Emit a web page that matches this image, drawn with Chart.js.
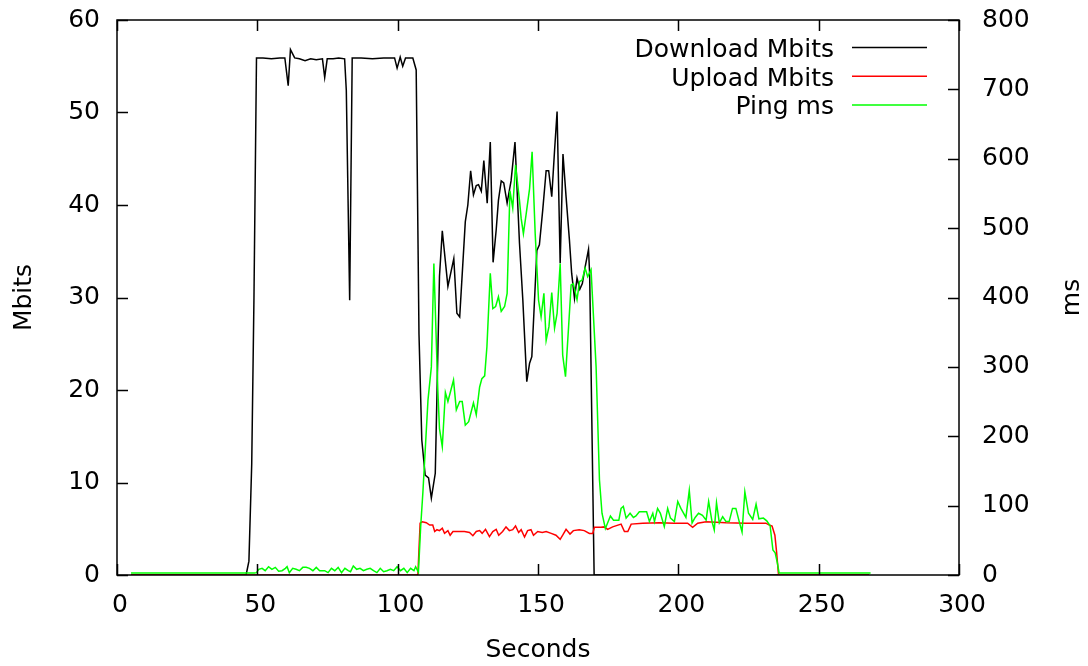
<!DOCTYPE html>
<html>
<head>
<meta charset="utf-8">
<script src="https://cdn.jsdelivr.net/npm/chart.js@4.4.1/dist/chart.umd.min.js"></script>
<style>
  html, body { margin: 0; padding: 0; background: #fff; }
  #wrap { width: 1088px; height: 666px; }
</style>
</head>
<body>
<div id="wrap"><canvas id="grafico" width="1088" height="666"></canvas></div>
<script>
// Download Mbits (black)
const dlSec = [5, 46, 47, 48, 48.8, 49.7, 52, 55, 58, 59.8, 61, 61.8, 63.3, 65, 67, 69, 71, 73.2, 74, 74.9,
  77, 79, 81.1, 81.7, 82.9, 83.8, 87, 91, 95, 98.9, 99.8, 100.9, 101.8, 102.8, 105.4, 106.6, 107.6, 108.6,
  109.8, 111, 112, 113.4, 114.9, 115.9, 117.9, 120, 121.1, 122.1, 124.1, 125, 126, 127, 128, 128.8, 129.8,
  130.7, 131.9, 133, 134, 135.1, 135.9, 136.9, 137.8, 139, 140.4, 141.8, 143.4, 144.6, 146, 147, 147.8,
  149.6, 150.5, 151.7, 152.9, 153.8, 154.9, 155.9, 156.8, 157.9, 158.9, 160, 161.2, 162, 163, 163.9, 164.9,
  165.8, 166.8, 168, 168.4, 170, 268];
const dlMbits = [0, 0, 1.5, 12, 30, 55.9, 55.9, 55.8, 55.9, 55.9, 52.9, 56.8, 55.9, 55.8, 55.6, 55.8, 55.7, 55.8, 53.8, 55.8,
  55.8, 55.9, 55.8, 52.4, 29.7, 55.9, 55.9, 55.8, 55.9, 55.9, 54.8, 56, 55, 55.9, 55.9, 54.6, 26, 14.6,
  10.8, 10.5, 8.3, 11, 32.3, 37.2, 31.2, 34.2, 28.3, 27.9, 38.2, 40, 43.7, 41.1, 42.1, 42.2, 41.5,
  44.8, 40.2, 46.8, 33.8, 37.3, 40.5, 42.6, 42.4, 40.2, 42.6, 46.8, 35.9, 29.7, 20.9, 22.9, 23.6,
  35.1, 35.7, 39.5, 43.7, 43.7, 40.9, 45.9, 50.1, 33.7, 45.5, 40.9, 36.2, 32.6, 29.9, 32.1, 30.9,
  31.5, 33.3, 35.2, 32.6, 0, 0];

// Upload Mbits (red)
const ulSec = [5, 106.6, 107.2, 108, 108.8, 110.2, 111.4, 112.5, 113.2, 114, 114.9, 115.9, 116.7, 117.9, 118.7,
  119.7, 121.4, 123.8, 125.6, 126.8, 128, 129.2, 130.1, 131.3, 132.7, 133.9, 135.1, 136, 137.4, 138.6, 139.8,
  141, 142, 143.1, 144, 145.2, 146.3, 147.5, 148.4, 149.9, 151.5, 152.9, 154.7, 156.4, 157.9, 158.8, 160,
  161.4, 162.6, 164.7, 166.5, 168.3, 169.5, 170.1, 172.4, 173.6, 174.8, 176.6, 179.6, 180.8, 182, 183.2,
  187.3, 193.2, 198.6, 203.3, 205.1, 206.9, 209.9, 217, 224.1, 231.2, 232.4, 233.4, 234.4, 235, 235.7, 268];
const ulMbits = [0, 0, 0, 5.6, 5.76, 5.65, 5.4, 5.4, 4.7, 4.9, 4.8, 5.05, 4.5, 4.8, 4.3,
  4.7, 4.7, 4.7, 4.6, 4.25, 4.7, 4.8, 4.5, 4.94, 4.15, 4.7, 4.94, 4.3, 4.7, 5.2, 4.8,
  4.9, 5.3, 4.6, 4.9, 4.1, 4.8, 4.9, 4.3, 4.7, 4.6, 4.7, 4.5, 4.3, 3.86, 4.3, 4.94,
  4.43, 4.8, 4.9, 4.8, 4.5, 4.5, 5.15, 5.15, 5.2, 4.94, 5.2, 5.5, 4.7, 4.7, 5.5,
  5.6, 5.65, 5.6, 5.6, 5.15, 5.6, 5.76, 5.65, 5.6, 5.6, 5.4, 5.3, 4.3, 2.5, 0, 0];

// Ping ms (green, right axis)
const pingSec = [5, 49, 49.7, 50.5, 51.7, 52.8, 54, 55.2, 56.4, 57.6, 58.8, 60, 60.6, 61.4, 62.6, 63.8, 65,
  66.2, 67.4, 68.6, 69.8, 71, 72.2, 74, 75.2, 76.4, 77.6, 78.8, 80, 81.2, 82.4, 83.2, 84.2, 85.4, 86.6,
  87.8, 89, 90.2, 91.4, 92.6, 93.8, 95, 96.2, 97.4, 98.6, 99.8, 101, 102.2, 103.4, 104.6, 105.8, 106.4,
  107.4, 108.2, 109, 110.8, 112, 112.9, 114.3, 114.9, 115.9, 117, 117.9, 119.9, 120.9, 122.1, 123, 124.1,
  125.3, 127, 128, 129.2, 130, 131, 131.8, 133, 133.9, 134.9, 135.9, 136.9, 138.1, 139, 140, 141, 142,
  143.4, 144, 144.8, 145.8, 147, 147.9, 149, 150.2, 151.1, 152.1, 152.9, 153.9, 154.9, 155.9, 156.8,
  157.9, 158.8, 159.8, 160.9, 161.8, 162.6, 163.9, 164.8, 165.7, 166.8, 167.7, 168.9, 170.7, 171.9,
  172.8, 174, 174.8, 175.8, 176.9, 178.8, 179.6, 180.4, 181.4, 182.8, 184, 184.9, 186.1, 188.7, 189.7,
  190.9, 191.5, 192.6, 193.6, 195, 196.2, 197.2, 198.6, 199.8, 200.9, 202.7, 203.9, 204.9, 206, 207.2,
  208.6, 209.9, 210.8, 212, 212.8, 213.6, 214.6, 215.8, 217, 218.1, 219.3, 220.5, 221.7, 222.7, 223.7,
  225, 226.5, 227.7, 228.7, 230.3, 231.5, 232.7, 233.7, 234.5, 235.3, 235.9, 268.5];
const pingMs = [3, 3, 3.4, 8.2, 9.6, 6.2, 12, 8.2, 11, 5.5, 6.2, 9.6, 12, 3.4, 9.6, 8.2, 6.2,
  11, 11, 9.6, 6.2, 11, 6.2, 6.2, 3.4, 9.6, 6.2, 11, 3.4, 9.6, 6.2, 4.8, 13, 8.2, 9.6,
  6.2, 8.2, 9.6, 6.2, 3.4, 9.6, 4.8, 6.2, 8.2, 6.2, 12, 6.2, 9.6, 3.4, 9.6, 6.2, 12,
  4, 70, 120, 252, 300, 449, 267, 211, 185, 263, 250, 281, 238, 250, 250, 216,
  221, 248, 231, 271, 283, 287, 329, 435, 384, 387, 401, 380, 387, 406, 554, 529, 591,
  540, 514, 492, 521, 557, 610, 492, 396, 372, 406, 338, 358, 407, 356, 377,
  449, 317, 286, 358, 418, 420, 397, 423, 425, 442, 430, 440, 300, 137,
  89, 67, 75, 85, 79, 79, 96, 99, 82, 89, 83, 85, 91, 91, 77,
  89, 77, 96, 89, 70, 96, 82, 77, 106, 96, 83, 122, 75, 83, 89,
  86, 79, 106, 77, 65, 104, 75, 84, 77, 77, 96, 96, 77, 62, 120,
  89, 80, 102, 81, 82, 78, 71, 36, 32, 17, 3, 3];

const seriesNames = ['Download Mbits', 'Upload Mbits', 'Ping ms'];
const seriesColors = ['#000000', '#ff0000', '#00ff00'];
const y2Title = 'ms';

const toPts = (xs, ys) => xs.map((x, i) => ({ x, y: ys[i] }));

const FONT = "'DejaVu Sans', sans-serif";
Chart.defaults.font.family = FONT;
Chart.defaults.font.size = 25;
Chart.defaults.color = '#000';

const TICK = 11;

// gnuplot-like frame: inward ticks, mirrored x ticks, border, legend, right title
const moldura = {
  id: 'moldura',
  afterDatasetsDraw(chart) {
    const { ctx, chartArea: a, scales } = chart;
    ctx.save();
    ctx.strokeStyle = '#000';
    ctx.lineWidth = 1.5;
    ctx.beginPath();
    scales.x.ticks.forEach(t => {
      const px = Math.round(scales.x.getPixelForValue(t.value)) + 0.5;
      ctx.moveTo(px, a.bottom); ctx.lineTo(px, a.bottom - TICK);
      ctx.moveTo(px, a.top); ctx.lineTo(px, a.top + TICK);
    });
    scales.y.ticks.forEach(t => {
      const py = Math.round(scales.y.getPixelForValue(t.value)) + 0.5;
      ctx.moveTo(a.left, py); ctx.lineTo(a.left + TICK, py);
    });
    scales.y2.ticks.forEach(t => {
      const py = Math.round(scales.y2.getPixelForValue(t.value)) + 0.5;
      ctx.moveTo(a.right, py); ctx.lineTo(a.right - TICK, py);
    });
    ctx.stroke();
    ctx.strokeRect(a.left, a.top, a.right - a.left, a.bottom - a.top);

    // legend
    ctx.font = '25px ' + FONT;
    ctx.textAlign = 'right';
    ctx.textBaseline = 'alphabetic';
    chart.data.datasets.forEach((ds, i) => {
      const y = 47.5 + i * 28.7;
      ctx.fillStyle = '#000';
      ctx.fillText(ds.label, 834, y + 9.5);
      ctx.strokeStyle = ds.borderColor;
      ctx.lineWidth = 1.5;
      ctx.beginPath();
      ctx.moveTo(852, y); ctx.lineTo(927, y);
      ctx.stroke();
    });

    // right axis title, rotated like the left one
    ctx.translate(1072, (a.top + a.bottom) / 2);
    ctx.rotate(-Math.PI / 2);
    ctx.textAlign = 'center';
    ctx.textBaseline = 'middle';
    ctx.fillStyle = '#000';
    ctx.fillText(y2Title, 0, 0);
    ctx.restore();
  }
};

new Chart(document.getElementById('grafico'), {
  type: 'line',
  data: {
    datasets: [
      { label: seriesNames[0], data: toPts(dlSec, dlMbits), borderColor: seriesColors[0], yAxisID: 'y', order: 3 },
      { label: seriesNames[1], data: toPts(ulSec, ulMbits), borderColor: seriesColors[1], yAxisID: 'y', order: 2 },
      { label: seriesNames[2], data: toPts(pingSec, pingMs), borderColor: seriesColors[2], yAxisID: 'y2', order: 1 }
    ]
  },
  options: {
    responsive: false,
    animation: false,
    events: [],
    layout: { padding: { top: 20, left: 0, right: 0, bottom: 0 } },
    elements: {
      line: { borderWidth: 1.5, tension: 0, fill: false },
      point: { radius: 0 }
    },
    plugins: { legend: { display: false }, tooltip: { enabled: false } },
    scales: {
      x: {
        type: 'linear', min: 0, max: 300,
        grid: { display: false, drawTicks: false },
        border: { display: false },
        ticks: { stepSize: 50, padding: 15, maxRotation: 0, autoSkip: false, labelOffset: 3 },
        title: { display: true, text: 'Seconds', padding: { top: 0, bottom: 1 } },
        afterFit: s => { s.height = 91; s.paddingLeft = 0; s.paddingRight = 0; }
      },
      y: {
        position: 'left', min: 0, max: 60,
        grid: { display: false, drawTicks: false },
        border: { display: false },
        ticks: { stepSize: 10, padding: 17 },
        title: { display: true, text: 'Mbits', padding: { top: 9, bottom: 0 } },
        afterFit: s => { s.width = 117; s.paddingTop = 0; s.paddingBottom = 0; }
      },
      y2: {
        position: 'right', min: 0, max: 800,
        grid: { display: false, drawTicks: false },
        border: { display: false },
        ticks: { stepSize: 100, padding: 23 },
        title: { display: false },
        afterFit: s => { s.width = 129; s.paddingTop = 0; s.paddingBottom = 0; }
      }
    }
  },
  plugins: [moldura]
});
</script>
</body>
</html>
